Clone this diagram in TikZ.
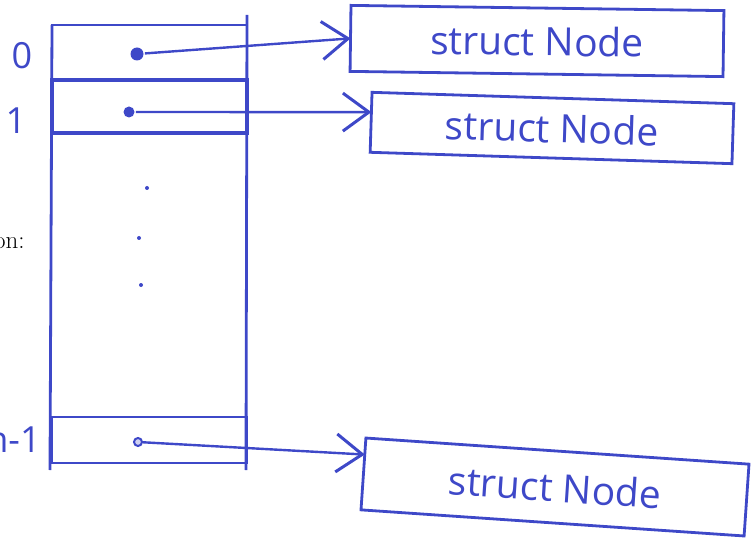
\documentclass[tikz,border=0pt]{standalone}
\usepackage{fontspec}
\newfontfamily\hand{Open Sans}
\usetikzlibrary{arrows.meta,calc}
\definecolor{pen}{RGB}{62,72,200}
\begin{document}
\begin{tikzpicture}[x=1pt,y=-1pt,line width=2.8pt,
  cell/.style={draw=pen,inner sep=0pt,outer sep=0pt,anchor=north west,minimum width=195pt},
  structbox/.style={draw=pen,inner sep=0pt,outer sep=0pt,text=pen,font=\hand\fontsize{39}{44}\selectfont},
  dotn/.style={circle,fill=pen,inner sep=0pt},
  idx/.style={text=pen,font=\hand\fontsize{36}{40}\selectfont,inner sep=0pt},
  ptr/.style={draw=pen,line width=2.4pt,-{Straight Barb[length=26pt,width=38pt,line width=3pt]}}]
\useasboundingbox (0,0) rectangle (755,548);
\clip (0,0) rectangle (755,548);
% array cells
\node[cell,minimum height=55pt] (c0) at (52,25) {};
\node[cell,minimum height=53pt,line width=3.6pt] (c1) at (52,80) {};
\node[cell,minimum height=46pt] (cn) at (52,417) {};
\coordinate (ltop) at (52,25);
\coordinate (lbot) at (50,470);
\coordinate (rtop) at (247,15);
\coordinate (rbot) at (246,470);
\draw[pen] (ltop) -- (lbot);
\draw[pen] (rtop) -- (rbot);
% index labels
\node[idx] (l0) at (22,56) {0};
\node[idx] (l1) at (16,121) {1};
\node[idx,anchor=east] (ln) at (42,440) {n-1};
\node[font=\fontsize{25}{30}\selectfont,anchor=east,inner sep=0pt] (on) at (26,243) {on:};
% pointer dots
\node[dotn,minimum size=13pt] (d0) at (137,54) {};
\node[dotn,minimum size=11pt] (d1) at (129,112) {};
\node[circle,draw=pen,line width=2pt,fill=pen!25,inner sep=0pt,minimum size=8pt] (dn) at (138,442) {};
% vertical ellipsis
\node[dotn,minimum size=4pt] (e1) at (147,188) {};
\node[dotn,minimum size=4pt] (e2) at (139,238) {};
\node[dotn,minimum size=4pt] (e3) at (141,285) {};
% struct boxes
\node[structbox,minimum width=373pt,minimum height=66pt,rotate=-0.8] (b1) at (537,41) {struct Node};
\node[structbox,minimum width=362pt,minimum height=60pt,rotate=-1.8] (b2) at (552,128) {struct Node\hspace{28pt}};
\node[structbox,minimum width=384pt,minimum height=72pt,rotate=-3.9] (b3) at (555,487) {struct Node\hspace{40pt}};
% pointers
\draw[ptr] (d0) -- (b1.west);
\draw[ptr] (d1) -- ($(b2.north west)!0.33!(b2.south west)$);
\draw[ptr] (dn) -- ($(b3.north west)!0.23!(b3.south west)$);
\end{tikzpicture}
\end{document}
